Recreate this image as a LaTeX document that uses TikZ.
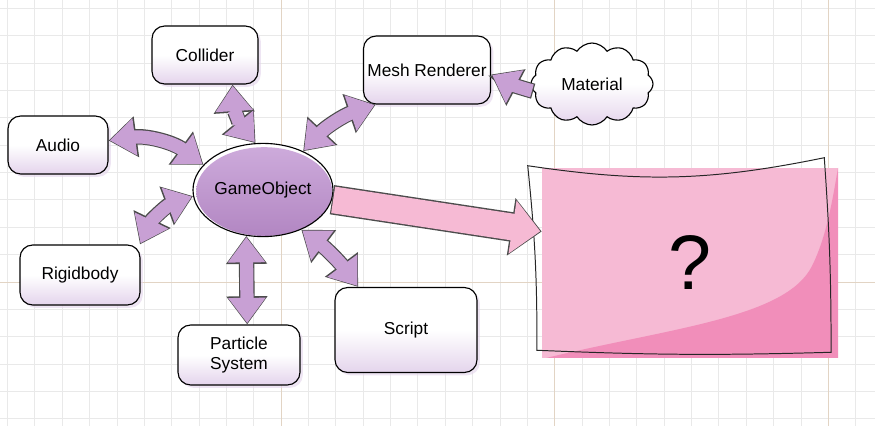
\documentclass[tikz,border=0pt]{standalone}
\usepackage{fontspec}
\setmainfont{Liberation Sans}
\usetikzlibrary{arrows.meta,shapes.geometric,shapes.symbols,shadows}

\definecolor{gridline}{RGB}{233,233,233}
\definecolor{gridmajor}{RGB}{226,212,196}
\definecolor{boxshade}{RGB}{228,212,236}
\definecolor{linkfill}{RGB}{200,160,212}
\definecolor{gotop}{RGB}{206,172,220}
\definecolor{gobot}{RGB}{178,134,194}
\definecolor{pinklight}{RGB}{246,186,212}
\definecolor{pinkdark}{RGB}{241,142,186}

\begin{document}
\begin{tikzpicture}[
    font=\fontsize{12.3}{14.5}\selectfont,
    comp/.style={draw=black, line width=0.8pt, rounded corners=9pt, align=center,
        top color=white, bottom color=boxshade, middle color=white,
        drop shadow={shadow xshift=2pt, shadow yshift=-2pt, opacity=0.6, fill=boxshade}},
    hub/.style={ellipse, draw=black, line width=0.8pt, fill=white, inner sep=0pt,
        minimum width=3.5cm, minimum height=2.33cm,
        path picture={\shade[top color=gotop, bottom color=gobot]
            ([xshift=0.03cm, yshift=-0.04cm]path picture bounding box.center)
            ellipse [x radius=1.70cm, y radius=1.11cm];}},
    puff/.style={cloud, cloud puffs=12, cloud puff arc=115, aspect=1.5, draw=black,
        line width=0.8pt, top color=white, bottom color=boxshade, middle color=white,
        minimum width=3.05cm, minimum height=2.05cm, inner sep=0pt},
    linkedge/.style={draw=black!70, line width=11pt,
        arrows={Triangle[width=28pt,length=20pt]-Triangle[width=28pt,length=20pt]}},
    linkcore/.style={draw=linkfill, line width=9.4pt, shorten >=0.9pt, shorten <=0.9pt,
        arrows={Triangle[width=25.5pt,length=18pt]-Triangle[width=25.5pt,length=18pt]}},
    pinkedge/.style={draw=black!70, line width=21pt,
        arrows={-Triangle[width=40pt,length=22pt]}},
    pinkcore/.style={draw=pinklight, line width=19pt, shorten >=1pt, shorten <=0.8pt,
        arrows={-Triangle[width=37pt,length=20pt]}},
    sketch/.style={draw=black!85, line width=0.7pt}
]
\useasboundingbox (0,0) rectangle (21.875,10.65);
\fill[white] (0,0) rectangle (21.875,10.65);

% background grid
\foreach \k in {0,...,31}
    \draw[gridline, line width=0.6pt] ({0.1875+0.684*\k},0) -- ++(0,10.65);
\foreach \k in {-5,...,10}
    \draw[gridline, line width=0.6pt] (0,{3.6+0.684*\k}) -- ++(21.875,0);
\foreach \k in {10,20,30}
    \draw[gridmajor, line width=0.6pt] ({0.1875+0.684*\k},0) -- ++(0,10.65);
\draw[gridmajor, line width=0.6pt] (0,3.6) -- ++(21.875,0);

% components
\node[hub] (gameobj) at (6.575,5.9) {GameObject};
\node[comp, minimum width=2.65cm, minimum height=1.45cm] (collider) at (5.125,9.275) {Collider};
\node[comp, minimum width=2.5cm, minimum height=1.45cm] (audio) at (1.45,7.025) {Audio};
\node[comp, minimum width=3.175cm, minimum height=1.7cm, inner sep=1pt] (mesh) at (10.675,8.9) {Mesh Renderer};
\node[puff] (material) at (14.8,8.55) {Material};
\node[comp, minimum width=3.0cm, minimum height=1.5cm] (rigid) at (2.0,3.775) {Rigidbody};
\node[comp, minimum width=3.05cm, minimum height=1.5cm] (particle) at (5.975,1.775) {Particle\\System};
\node[comp, minimum width=3.55cm, minimum height=2.125cm] (script) at (10.15,2.4) {Script};

\node[fill=pinklight, minimum width=7.4cm, minimum height=4.75cm,
    font=\fontsize{55}{60}\selectfont,
    path picture={\fill[pinkdark]
        ([shift={(0.1,0)}]path picture bounding box.south west)
        .. controls ([shift={(3.2,0.75)}]path picture bounding box.south west)
        and ([shift={(6.1,1.0)}]path picture bounding box.south west)
        .. ([shift={(6.75,2.3)}]path picture bounding box.south west)
        .. controls ([shift={(7.15,3.1)}]path picture bounding box.south west)
        and ([shift={(7.3,4.2)}]path picture bounding box.south west)
        .. (path picture bounding box.north east)
        -- (path picture bounding box.south east) -- cycle;}]
    (qbox) at (17.25,4.075) {?};
\draw[sketch] ([shift={(-0.35,0.05)}]qbox.north west) to[bend right=10]
    ([shift={(-0.35,0.25)}]qbox.north east) to[bend left=2]
    ([shift={(-0.18,0.15)}]qbox.south east) to[bend left=2]
    ([shift={(-0.12,0.2)}]qbox.south west) to[bend right=3] cycle;

% links
\foreach \from/\to/\bend in {collider.-47/gameobj.99/-18, audio.5/gameobj.157/22,
        mesh.214/gameobj.44/-14, rigid.27/gameobj.185/22,
        gameobj.-110/particle.75/0, gameobj.-46/script.138/8} {
    \draw[linkedge] (\from) to[bend left=\bend] (\to);
    \draw[linkcore] (\from) to[bend left=\bend] (\to);
}
\draw[linkedge, arrows={-Triangle[width=28pt,length=20pt]}] (material.187) to[bend left=6] (mesh.-4);
\draw[linkcore, arrows={-Triangle[width=25.5pt,length=18pt]}] (material.187) to[bend left=6] (mesh.-4);

\draw[pinkedge] (gameobj.-8) -- (qbox.168);
\draw[pinkcore] (gameobj.-8) -- (qbox.168);

\end{tikzpicture}
\end{document}
